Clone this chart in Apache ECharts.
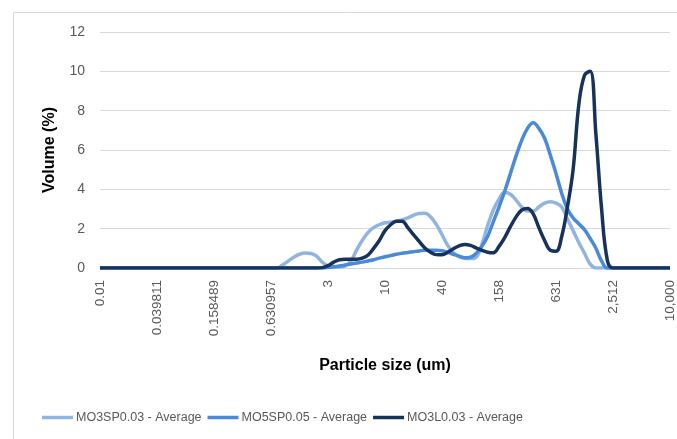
<!DOCTYPE html>
<html>
<head>
<meta charset="utf-8">
<title>Particle size distribution</title>
<script src="https://cdn.jsdelivr.net/npm/echarts@6/dist/echarts.min.js"></script>
<style>
  html, body { margin: 0; padding: 0; background: #ffffff; }
  #chart { width: 677px; height: 439px; }
</style>
</head>
<body>
<div id="chart"></div>
<script>
// Laser-diffraction size classes: 101 log-spaced bins from 0.01 to 10,000 um
const sizeBins = Array.from({ length: 101 }, (_, i) => +Math.pow(10, -2 + 0.06 * i).toPrecision(6));

// Labels shown on every 10th size class
const tickLabels = ['0.01', '0.039811', '0.158489', '0.630957', '3', '10', '40', '158', '631', '2,512', '10,000'];

const seriesNames = ['MO3SP0.03 - Average', 'MO5SP0.05 - Average', 'MO3L0.03 - Average'];

// Volume (%) per size class
const mo3sp003 = [
  0, 0, 0, 0, 0, 0, 0, 0, 0, 0,
  0, 0, 0, 0, 0, 0, 0, 0, 0, 0,
  0, 0, 0, 0, 0, 0, 0, 0, 0, 0,
  0, 0, 0.15, 0.35, 0.55, 0.7, 0.76, 0.74, 0.6, 0.3,
  0.1, 0.05, 0.05, 0.1, 0.35, 0.9, 1.4, 1.8, 2.05, 2.2,
  2.3, 2.33, 2.38, 2.45, 2.55, 2.68, 2.77, 2.78, 2.6, 2.22,
  1.7, 1.15, 0.78, 0.58, 0.5, 0.48, 0.55, 1.2, 2.15, 2.95,
  3.5, 3.85, 3.75, 3.45, 3.1, 2.9, 2.9, 3.1, 3.3, 3.37,
  3.3, 3.1, 2.5, 1.9, 1.3, 0.75, 0.2, 0, 0, 0,
  0, 0, 0, 0, 0, 0, 0, 0, 0, 0,
  0
];

const mo5sp005 = [
  0, 0, 0, 0, 0, 0, 0, 0, 0, 0,
  0, 0, 0, 0, 0, 0, 0, 0, 0, 0,
  0, 0, 0, 0, 0, 0, 0, 0, 0, 0,
  0, 0, 0, 0, 0, 0, 0, 0, 0, 0,
  0.03, 0.06, 0.1, 0.15, 0.2, 0.25, 0.3, 0.36, 0.42, 0.5,
  0.57, 0.63, 0.7, 0.75, 0.79, 0.83, 0.87, 0.9, 0.9, 0.9,
  0.88, 0.8, 0.7, 0.6, 0.52, 0.55, 0.75, 1.1, 1.6, 2.35,
  3.1, 3.9, 4.8, 5.7, 6.5, 7.1, 7.38, 7.1, 6.6, 5.75,
  4.8, 3.8, 3.0, 2.55, 2.25, 1.95, 1.5, 1.0, 0.35, 0,
  0, 0, 0, 0, 0, 0, 0, 0, 0, 0,
  0
];

const mo3l003 = [
  0, 0, 0, 0, 0, 0, 0, 0, 0, 0,
  0, 0, 0, 0, 0, 0, 0, 0, 0, 0,
  0, 0, 0, 0, 0, 0, 0, 0, 0, 0,
  0, 0, 0, 0, 0, 0, 0, 0, 0, 0.02,
  0.12, 0.3, 0.42, 0.45, 0.45, 0.45, 0.5, 0.65, 1.0, 1.4,
  1.9, 2.2, 2.38, 2.38, 2.05, 1.7, 1.35, 1.02, 0.8, 0.68,
  0.67, 0.8, 0.98, 1.12, 1.2, 1.15, 1.02, 0.9, 0.8, 0.77,
  1.1, 1.55, 2.1, 2.6, 2.95, 3.03, 2.75, 2.05, 1.4, 0.9,
  0.85, 1.6, 3.1, 5.0, 8.3, 9.8, 10.0, 6.8, 3.0, 0.4,
  0, 0, 0, 0, 0, 0, 0, 0, 0, 0,
  0
];

const seriesData = [mo3sp003, mo5sp005, mo3l003];
const seriesColors = ['#91b5e2', '#4a8ad8', '#17335c'];

const FONT = '"Liberation Sans", Arial, sans-serif';
const GRAY = '#595959';

const chart = echarts.init(document.getElementById('chart'), null, { renderer: 'canvas' });

chart.setOption({
  animation: false,
  backgroundColor: '#ffffff',
  graphic: [{
    type: 'rect',
    left: 11,
    top: 10,
    shape: { width: 720, height: 470 },
    style: { fill: 'none', stroke: '#d9d9d9', lineWidth: 1 },
    silent: true,
    z: -10
  }],
  grid: { left: 100, right: 7, top: 32, bottom: 171 },
  legend: {
    left: 42,
    top: 411,
    padding: 0,
    icon: 'rect',
    itemWidth: 31,
    itemHeight: 3.5,
    itemGap: 6,
    textStyle: { color: GRAY, fontSize: 12.5, fontFamily: FONT, padding: [0, 0, 0, -2] },
    data: seriesNames
  },
  xAxis: {
    type: 'category',
    data: sizeBins,
    boundaryGap: false,
    name: 'Particle size (um)',
    nameLocation: 'middle',
    nameGap: 90,
    nameTextStyle: { color: '#000000', fontSize: 16, fontWeight: 'bold', fontFamily: FONT },
    axisLine: { show: true, lineStyle: { color: '#d9d9d9', width: 1 } },
    axisTick: { show: false },
    splitLine: { show: false },
    axisLabel: {
      interval: 9,
      rotate: 90,
      margin: 12,
      color: GRAY,
      fontSize: 13.5,
      fontFamily: FONT,
      formatter: (value, index) => tickLabels[index / 10] ?? ''
    }
  },
  yAxis: {
    type: 'value',
    min: 0,
    max: 12,
    interval: 2,
    name: 'Volume (%)',
    nameLocation: 'middle',
    nameGap: 42,
    nameTextStyle: { color: '#000000', fontSize: 16, fontWeight: 'bold', fontFamily: FONT },
    axisLine: { show: false },
    axisTick: { show: false },
    splitLine: { lineStyle: { color: '#d9d9d9', width: 1 } },
    axisLabel: { color: GRAY, fontSize: 14, fontFamily: FONT, margin: 15 }
  },
  series: seriesNames.map((name, k) => ({
    name,
    type: 'line',
    data: seriesData[k],
    smooth: 0.4,
    symbol: 'none',
    showSymbol: false,
    lineStyle: { color: seriesColors[k], width: 3.5 },
    itemStyle: { color: seriesColors[k] },
    z: 2 + k
  }))
});
</script>
</body>
</html>
